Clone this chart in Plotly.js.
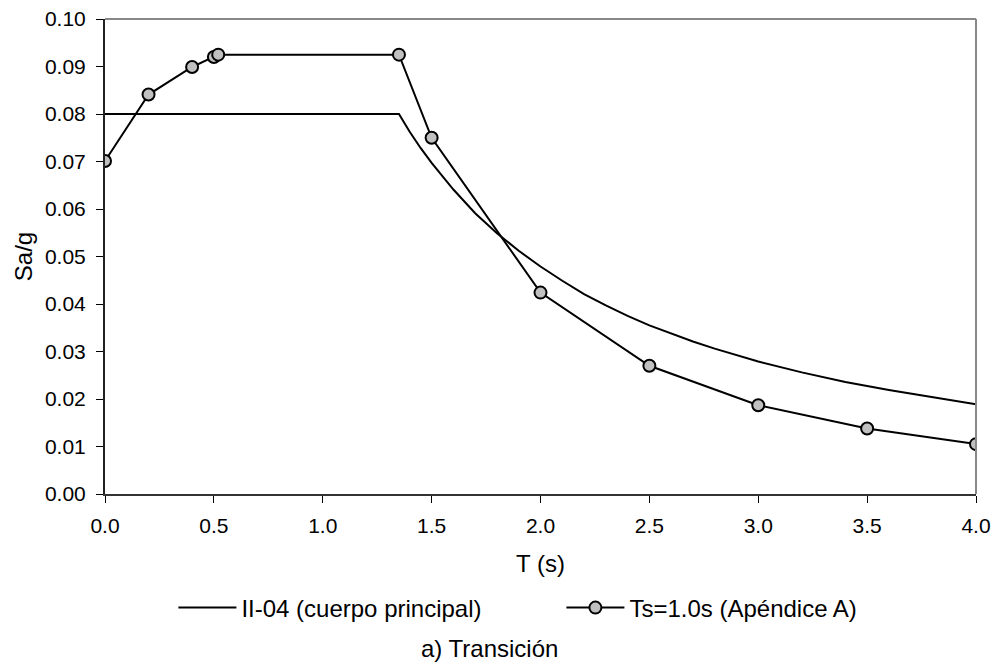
<!DOCTYPE html>
<html>
<head>
<meta charset="utf-8">
<script src="https://cdn.plot.ly/plotly-3.0.1.min.js"></script>
<style>html,body{margin:0;padding:0;background:#fff;}#chart{width:995px;height:668px;}</style>
</head>
<body>
<div id="chart"></div>
<script>
// II-04 (cuerpo principal)
var codeT  = [0.0, 1.35, 1.40, 1.45, 1.50, 1.55, 1.60, 1.70, 1.80, 1.90, 2.00, 2.10, 2.20, 2.30, 2.40, 2.50, 2.60, 2.70, 2.80, 2.90, 3.00, 3.20, 3.40, 3.60, 3.80, 4.00];
var codeSa = [0.080, 0.080, 0.0762, 0.0728, 0.0697, 0.0668, 0.0641, 0.0591, 0.0549, 0.0512, 0.0479, 0.0449, 0.0421, 0.0397, 0.0375, 0.0355, 0.0338, 0.0321, 0.0306, 0.0292, 0.0279, 0.0256, 0.0236, 0.0219, 0.0204, 0.0189];

// Ts=1.0s (Apéndice A)
var appT  = [0.0, 0.2, 0.4, 0.5, 0.52, 1.35, 1.5, 2.0, 2.5, 3.0, 3.5, 4.0];
var appSa = [0.0701, 0.0841, 0.0899, 0.0920, 0.0925, 0.0925, 0.0750, 0.0424, 0.0270, 0.0187, 0.0138, 0.0105];

var seriesNames = ['II-04 (cuerpo principal)', 'Ts=1.0s (Apéndice A)'];
var xTitle = 'T (s)';
var yTitle = 'Sa/g';
var caption = 'a) Transición';

var FONT = 'Liberation Sans, Arial, sans-serif';

var traces = [
  {x: codeT, y: codeSa, name: seriesNames[0], mode: 'lines', type: 'scatter',
   line: {color: '#000', width: 2}},
  {x: appT, y: appSa, name: seriesNames[1], mode: 'lines+markers', type: 'scatter',
   line: {color: '#000', width: 2},
   marker: {symbol: 'circle', size: 12, color: '#c0c0c0', line: {color: '#000', width: 2}}}
];

var layout = {
  width: 995, height: 668,
  margin: {l: 104.5, r: 19, t: 18.5, b: 173.5, pad: 0},
  paper_bgcolor: '#fff', plot_bgcolor: '#fff',
  font: {family: FONT, size: 21, color: '#000'},
  showlegend: true,
  xaxis: {
    range: [0, 4], dtick: 0.5, tick0: 0, tickformat: '.1f',
    showgrid: false, zeroline: false, showline: true, linecolor: '#333', linewidth: 2,
    ticks: 'outside', ticklen: 7, tickcolor: '#000', tickwidth: 1,
    tickfont: {size: 21}, ticklabelstandoff: 5,
    title: {text: xTitle, font: {size: 24}, standoff: 19}
  },
  yaxis: {
    range: [0, 0.1], dtick: 0.01, tick0: 0, tickformat: '.2f',
    showgrid: false, zeroline: false, showline: true, linecolor: '#222', linewidth: 2,
    ticks: 'outside', ticklen: 7, tickcolor: '#000', tickwidth: 1,
    tickfont: {size: 21}, ticklabelstandoff: 6,
    title: {text: yTitle, font: {size: 24}, standoff: 6}
  },
  shapes: [
    {type: 'line', xref: 'paper', yref: 'paper', x0: 0, x1: 1, y0: 1, y1: 1, line: {color: '#888', width: 2}},
    {type: 'line', xref: 'paper', yref: 'paper', x0: 1, x1: 1, y0: 0, y1: 1, line: {color: '#888', width: 2}}
  ],
  legend: {
    orientation: 'h', x: 0.524, xanchor: 'center', y: -0.24, yanchor: 'middle',
    font: {size: 24}, bgcolor: 'rgba(0,0,0,0)', traceorder: 'normal', itemwidth: 58,
    entrywidth: 315
  },
  annotations: [
    {text: caption, xref: 'paper', yref: 'paper', x: 0.442, y: -0.325, xanchor: 'center', yanchor: 'middle',
     showarrow: false, font: {size: 24}}
  ]
};

Plotly.newPlot('chart', traces, layout, {displayModeBar: false, staticPlot: true});
</script>
</body>
</html>
